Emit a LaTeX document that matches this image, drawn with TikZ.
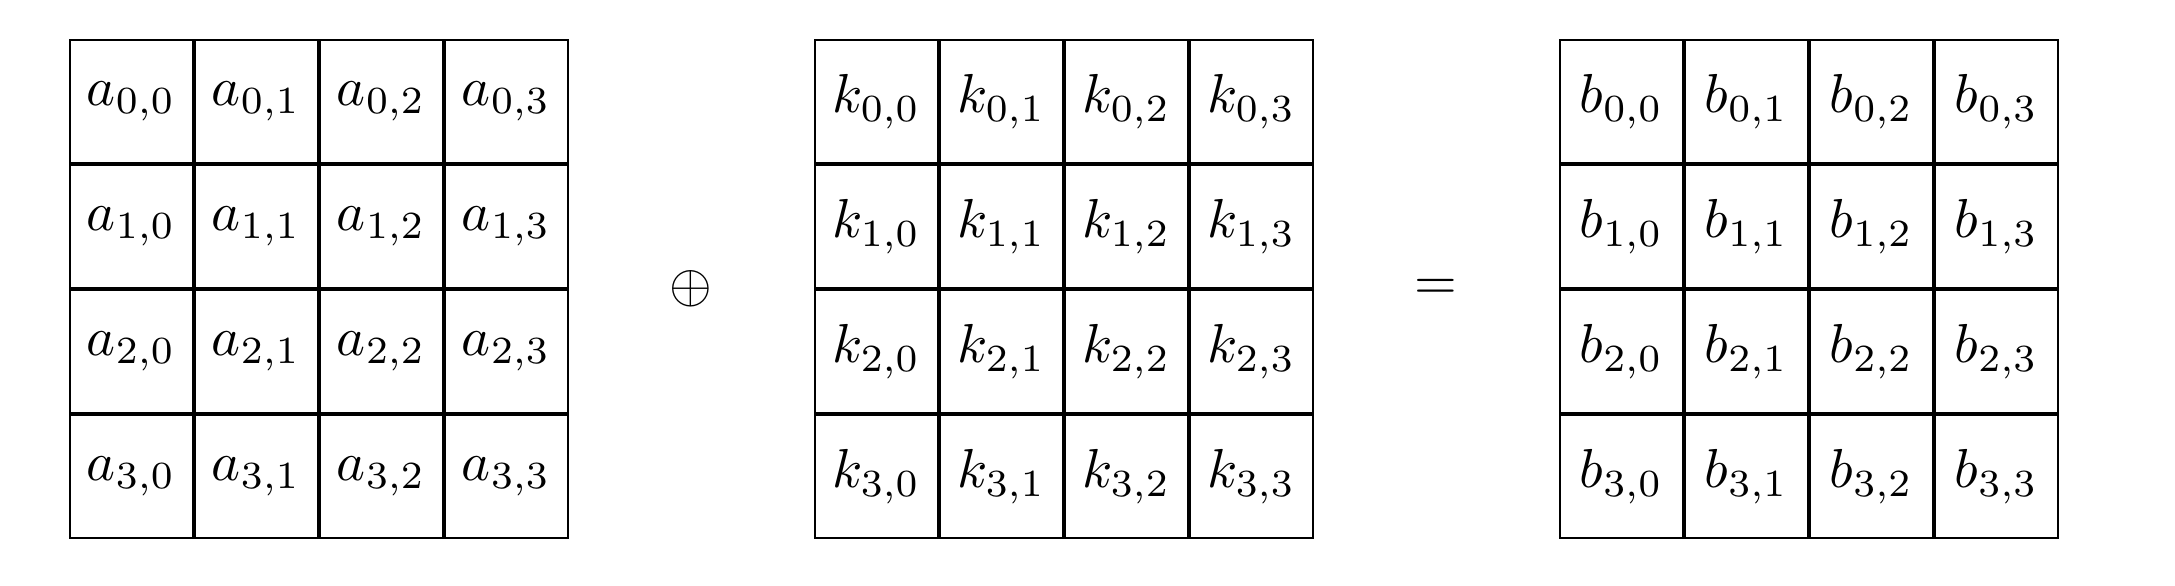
\documentclass[tikz,border=0pt]{standalone}
\usetikzlibrary{matrix,positioning,calc}
\begin{document}
\begin{tikzpicture}[
    cell/.style={draw, line width=0.4pt, minimum size=7.86mm, inner sep=0pt, anchor=center},
    grid/.style={matrix of math nodes, nodes={cell}, column sep=0pt, row sep=0pt, inner sep=0pt, outer sep=0pt}
    ]
	\useasboundingbox (0,0) rectangle (13.92,3.75);
	\matrix (A) [grid, anchor=north west] at (0.44,3.50) {
		a_{0,0} & a_{0,1} & a_{0,2} & a_{0,3} \\
		a_{1,0} & a_{1,1} & a_{1,2} & a_{1,3} \\
		a_{2,0} & a_{2,1} & a_{2,2} & a_{2,3} \\
		a_{3,0} & a_{3,1} & a_{3,2} & a_{3,3} \\
	};
	\matrix (K) [grid, right=1.568cm of A] {
		k_{0,0} & k_{0,1} & k_{0,2} & k_{0,3} \\
		k_{1,0} & k_{1,1} & k_{1,2} & k_{1,3} \\
		k_{2,0} & k_{2,1} & k_{2,2} & k_{2,3} \\
		k_{3,0} & k_{3,1} & k_{3,2} & k_{3,3} \\
	};
	\matrix (B) [grid, right=1.568cm of K] {
		b_{0,0} & b_{0,1} & b_{0,2} & b_{0,3} \\
		b_{1,0} & b_{1,1} & b_{1,2} & b_{1,3} \\
		b_{2,0} & b_{2,1} & b_{2,2} & b_{2,3} \\
		b_{3,0} & b_{3,1} & b_{3,2} & b_{3,3} \\
	};
	\node (xor) at ($(A.east)!0.5!(K.west)$) {$\oplus$};
	\node (eq) at ($(K.east)!0.5!(B.west)$) {$=$};
\end{tikzpicture}
\end{document}
